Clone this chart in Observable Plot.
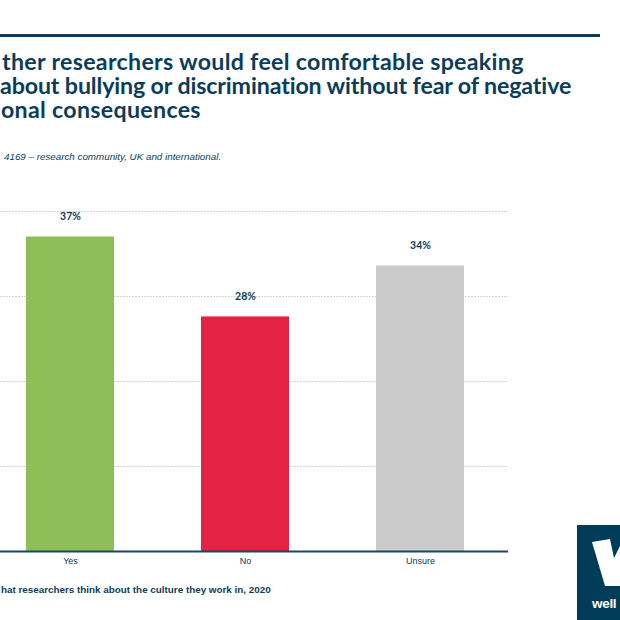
<!DOCTYPE html>
<html><head><meta charset="utf-8">
<script src="https://cdn.jsdelivr.net/npm/d3@7"></script>
<script src="https://cdn.jsdelivr.net/npm/@observablehq/plot@0.6"></script>
<style>
body{margin:0;width:620px;height:620px;overflow:hidden;background:#fff;position:relative;font-family:"Liberation Sans",Arial,sans-serif;}
#rule{position:absolute;left:0;top:34px;width:600px;height:3px;background:#0b3d5b;}
.tl{position:absolute;font-family:Lato,sans-serif;font-weight:700;font-size:23.2px;line-height:24px;color:#0b3d5b;white-space:nowrap;}
#sub{position:absolute;left:4px;top:151px;font-style:italic;font-size:9.8px;color:#0b3d5b;white-space:nowrap}
#chart{position:absolute;left:-60px;top:190px;}
#cap{position:absolute;left:1px;top:584px;font-size:9.85px;font-weight:bold;color:#0b3d5b;white-space:nowrap}
#logo{position:absolute;left:577px;top:525px;width:43px;height:95px;background:#003b57;overflow:hidden}
#logo svg{position:absolute;left:0;top:0}
#logo .wm{position:absolute;left:15px;top:71px;font:bold 13.5px "Liberation Sans";color:#fff;letter-spacing:-0.3px}
</style></head>
<body>
<div id="rule"></div>
<div class="tl" style="left:2px;top:49px;letter-spacing:0.3px">ther researchers would feel comfortable speaking</div>
<div class="tl" style="left:0px;top:73px;letter-spacing:-0.12px">about bullying or discrimination without fear of negative</div>
<div class="tl" style="left:1px;top:97px;letter-spacing:0.3px">onal consequences</div>
<div id="sub">4169 – research community, UK and international.</div>
<div id="chart"></div>
<div id="cap">hat researchers think about the culture they work in, 2020</div>
<div id="logo"><svg width="43" height="95"><polygon points="15,17 33,14 37,33 43,21 43,61 28,61" fill="#fff"/></svg><div class="wm">well</div></div>
<script>
const categories = ["Yes", "No", "Unsure"];
const values = [37, 27.6, 33.6];
const labels = ["37%", "28%", "34%"];
const colors = ["#8dbf58", "#e42243", "#cbcbcb"];
const yTicks = [0, 10, 20, 30, 40];

const data = categories.map((c, i) => ({cat: c, value: values[i], label: labels[i], color: colors[i]}));

const chart = Plot.plot({
  width: 568, height: 390,
  marginLeft: 42, marginRight: 0, marginTop: 21, marginBottom: 29,
  style: {fontFamily: "Liberation Sans", fontSize: "9px", color: "#0b3d5b", background: "transparent"},
  x: {domain: categories, paddingInner: 0.5, paddingOuter: 0.25, label: null, tickSize: 0, tickPadding: 6},
  y: {domain: [0, 40], axis: null},
  color: {type: "identity"},
  marks: [
    Plot.ruleY(yTicks.slice(1), {stroke: "#d4d4d4", strokeDasharray: "2,1"}),
    Plot.barY(data, {x: "cat", y: "value", fill: "color"}),
    Plot.ruleY([0], {stroke: "#1b4660", strokeWidth: 2}),
    Plot.text(data, {x: "cat", y: "value", text: "label", dy: -20, fontWeight: "bold", fontSize: 10.5, fill: "#0b3d5b", fontFamily: "Lato"})
  ]
});
document.getElementById("chart").appendChild(chart);
</script>
</body></html>
